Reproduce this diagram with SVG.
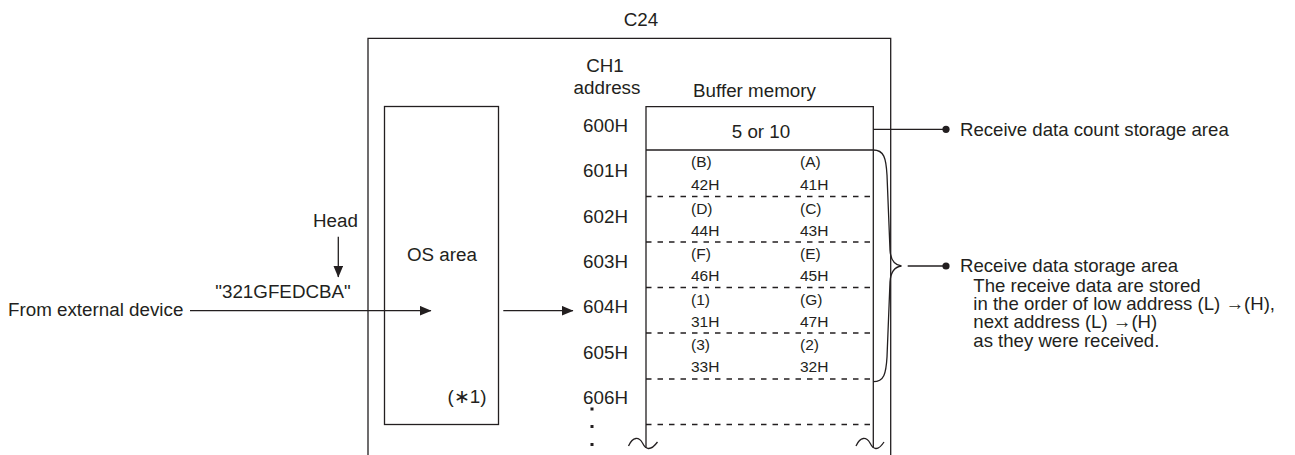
<svg xmlns="http://www.w3.org/2000/svg" width="1295" height="455" viewBox="0 0 1295 455">
<defs>
<style>
text{font-family:"Liberation Sans",Arial,sans-serif;fill:#231f20;font-size:18.8px}
.c{text-anchor:middle}
.s{font-size:15.5px}
.r{font-size:18.6px}
.ln{fill:none;stroke:#231f20;stroke-width:1.3}
.dash{fill:none;stroke:#231f20;stroke-width:1.3;stroke-dasharray:5.5 6}
.dot{fill:#231f20}
</style>
<marker id="ah" viewBox="0 0 12 10" refX="11.5" refY="5" markerWidth="12" markerHeight="10" markerUnits="userSpaceOnUse" orient="auto">
<path d="M0,0 L12,5 L0,10 Z" fill="#231f20"/>
</marker>
</defs>
<rect width="1295" height="455" fill="#fff"/>

<g id="c24">
<path class="ln" d="M368,455 V38.3 H890.7 V455"/>
<text class="c" x="641" y="26">C24</text>
</g>

<g id="os-area">
<rect class="ln" x="384.5" y="106.5" width="114" height="318"/>
<text class="c" x="442" y="261">OS area</text>
<text class="c" x="467" y="403">(∗1)</text>
</g>

<g id="external">
<text x="8" y="316">From external device</text>
<text class="c" x="283" y="298">"321GFEDCBA"</text>
<text class="c" x="335.5" y="227">Head</text>
</g>

<g id="addresses">
<text class="c" x="605" y="72">CH1</text>
<text class="c" x="607" y="93.5">address</text>
<text class="c" x="605.5" y="132">600H</text>
<text class="c" x="605.5" y="177">601H</text>
<text class="c" x="605.5" y="222.5">602H</text>
<text class="c" x="605.5" y="267.5">603H</text>
<text class="c" x="605.5" y="313">604H</text>
<text class="c" x="605.5" y="358.5">605H</text>
<text class="c" x="605.5" y="403.5">606H</text>
<rect class="dot" x="590.5" y="407.5" width="3" height="3"/>
<rect class="dot" x="590.5" y="425" width="3" height="3"/>
<rect class="dot" x="590.5" y="443" width="3" height="3"/>
</g>

<g id="buffer-memory">
<text class="c" x="754.5" y="97">Buffer memory</text>
<path class="ln" d="M646,448 V106.7 H873.3 V448 M646,150 H873.3"/>
<path class="dash" d="M646,196.5 H873.3 M646,242 H873.3 M646,287.5 H873.3 M646,333 H873.3 M646,379 H873.3 M646,424.5 H873.3"/>
<path class="ln" d="M628.5,446 C633,436 639,437 642.5,443 C645.5,449 650,452 657.5,442"/>
<path class="ln" d="M856,446 C860.5,436 866.5,437 870,443 C873,449 877.5,452 884,442"/>
<text class="c" x="761" y="137.5">5 or 10</text>
<g>
<text class="s" x="691" y="167">(B)</text><text class="s" x="800" y="167">(A)</text>
<text class="s" x="691" y="189.5">42H</text><text class="s" x="800" y="189.5">41H</text>
<text class="s" x="691" y="213.5">(D)</text><text class="s" x="800" y="213.5">(C)</text>
<text class="s" x="691" y="235.5">44H</text><text class="s" x="800" y="235.5">43H</text>
<text class="s" x="691" y="259">(F)</text><text class="s" x="800" y="259">(E)</text>
<text class="s" x="691" y="281">46H</text><text class="s" x="800" y="281">45H</text>
<text class="s" x="691" y="304.5">(1)</text><text class="s" x="800" y="304.5">(G)</text>
<text class="s" x="691" y="326.5">31H</text><text class="s" x="800" y="326.5">47H</text>
<text class="s" x="691" y="350">(3)</text><text class="s" x="800" y="350">(2)</text>
<text class="s" x="691" y="372">33H</text><text class="s" x="800" y="372">32H</text>
</g>
</g>

<g id="count-label">
<circle class="dot" cx="946" cy="129.3" r="3.6"/>
<text class="r" x="960" y="135.5">Receive data count storage area</text>
</g>

<g id="storage-label">
<path class="ln" d="M873.3,150 C884,150 886,158 887,175 L890,250 C890.5,259 894,265 901.5,266 C894,267 890.5,273 890,282 L887,357 C886,374 884,381.7 873.3,381.7"/>
<circle class="dot" cx="946" cy="266" r="3.6"/>
<text class="r" x="960" y="272">Receive data storage area</text>
<text class="r" x="973.3" y="291.7">The receive data are stored</text>
<text class="r" x="973.3" y="310">in the order of low address (L) →(H),</text>
<text class="r" x="973.3" y="328.3">next address (L) →(H)</text>
<text class="r" x="973.3" y="346.7">as they were received.</text>
</g>

<g id="connectors">
<path class="ln" d="M190,310.7 H431" marker-end="url(#ah)"/>
<path class="ln" d="M338.3,236.7 V277" marker-end="url(#ah)"/>
<path class="ln" d="M503.3,310.7 H573" marker-end="url(#ah)"/>
<path class="ln" d="M873.3,129.3 H946"/>
<path class="ln" d="M907.7,266 H946"/>
</g>
</svg>
